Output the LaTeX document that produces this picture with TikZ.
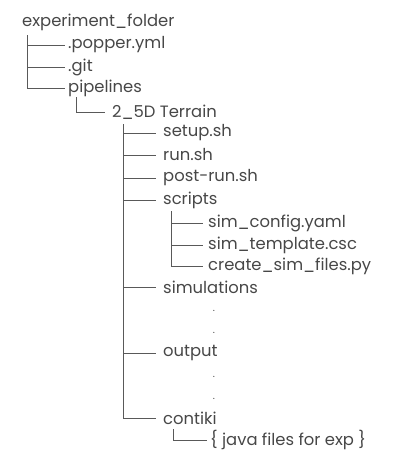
\documentclass[tikz,border=0pt]{standalone}
\usepackage{fontspec}
\setmainfont{Poppins}
\begin{document}
\begin{tikzpicture}[x=1pt,y=-1pt,
  lbl/.style={anchor=west,inner sep=0pt,text=black!72,font=\fontsize{16.4}{18}\selectfont},
  ln/.style={draw=black!65,line width=0.8pt},
  dotn/.style={inner sep=0pt,text=black!70,font=\fontsize{10}{12}\selectfont}]
\useasboundingbox (0,0) rectangle (405,472);
\node[lbl] (root) at (22,22) {experiment\_folder};
\node[lbl] (popper) at (68,45) {.popper.yml};
\node[lbl] (git) at (68,67) {.git};
\node[lbl] (pipe) at (68,88) {pipelines};
\node[lbl] (terr) at (112,112) {2\_5D Terrain};
\node[lbl] (setup) at (163,133) {setup.sh};
\node[lbl] (run) at (163,155) {run.sh};
\node[lbl] (post) at (163,178) {post-run.sh};
\node[lbl] (scripts) at (163,200) {scripts};
\node[lbl] (cfg) at (208,223) {sim\_config.yaml};
\node[lbl] (tmpl) at (208,245) {sim\_template.csc};
\node[lbl] (create) at (208,266) {create\_sim\_files.py};
\node[lbl] (sims) at (163,287) {simulations};
\node[dotn] (d1) at (214,311) {.};
\node[dotn] (d2) at (214,333) {.};
\node[lbl] (out) at (163,353) {output};
\node[dotn] (d3) at (214,377) {.};
\node[dotn] (d4) at (214,399) {.};
\node[lbl] (cont) at (163,418) {contiki};
\node[lbl] (java) at (210,440) {\{ java files for exp \}};
\coordinate (v0) at (27,35);
\coordinate (v1) at (76,97);
\coordinate (v2) at (123,124);
\coordinate (v3) at (171,211);
\coordinate (v4) at (173,429);
\draw[ln] (v0) |- ([xshift=-3pt]popper.west);
\draw[ln] (v0) |- ([xshift=-3pt]git.west);
\draw[ln] (v0) |- ([xshift=-3pt]pipe.west);
\draw[ln] (v1) |- ([xshift=-7pt]terr.west);
\foreach \n in {setup,run,post,scripts,sims,out,cont}
  \draw[ln] (v2) |- ([xshift=-7pt]\n.west);
\foreach \n in {cfg,tmpl,create}
  \draw[ln] (v3) |- ([xshift=-5pt]\n.west);
\draw[ln] (v4) |- ([xshift=-3pt]java.west);
\end{tikzpicture}
\end{document}
